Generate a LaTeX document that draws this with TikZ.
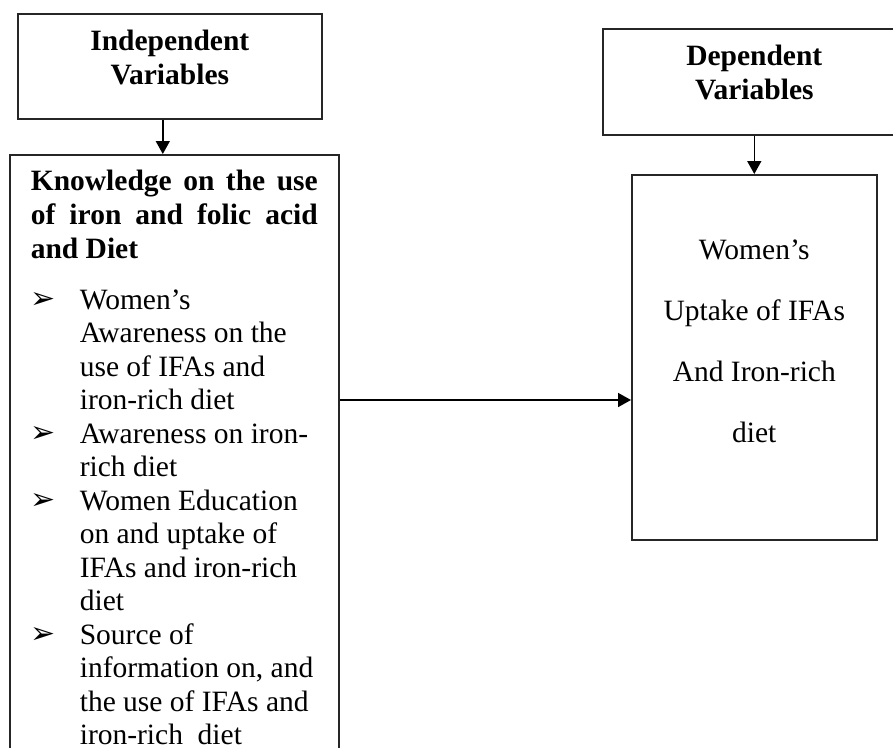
\documentclass[tikz,border=0pt]{standalone}
\usepackage{fontspec}
\setmainfont{Liberation Serif}
\newfontfamily\symfont{DejaVu Sans}
\usetikzlibrary{arrows.meta}

\tikzset{
  varbox/.style={draw=black!85, line width=1.6pt, inner sep=0pt, anchor=north west},
  arr/.style={-{Triangle[length=13pt,width=14pt]}, line width=1.6pt}
}
\newcommand{\bodyfont}{\fontsize{29.5}{34}\selectfont}
\newcommand{\itm}{\makebox[49pt][l]{\hspace{0pt}\raisebox{1pt}{\symfont\fontsize{30}{30}\selectfont ➢}}}
\newcommand{\ind}{\hspace*{49pt}}

\begin{document}
\begin{tikzpicture}[x=1pt, y=-1pt]
\useasboundingbox (0,0) rectangle (893,747);
\clip (0,0) rectangle (893,747);

% Independent side
\node[varbox] (indep) at (17,13) {\parbox[c][105pt][t]{304pt}{\centering\bfseries\bodyfont
\rule{0pt}{37pt}Independent\\Variables}};

\node[varbox, inner xsep=21pt] (know) at (9,154) {\parbox[c][620pt][t]{287pt}{\bodyfont\bfseries
\rule{0pt}{36pt}\makebox[287pt][s]{Knowledge on the use}\\
\makebox[287pt][s]{of iron and folic acid}\\
and Diet\par
\vspace{17pt}\normalfont\fontsize{29.5}{33.5}\selectfont
\itm Women’s\\
\ind Awareness on the\\
\ind use of IFAs and\\
\ind iron-rich diet\\
\itm Awareness on iron-\\
\ind rich diet\\
\itm Women Education\\
\ind on and uptake of\\
\ind IFAs and iron-rich\\
\ind diet\\
\itm Source of\\
\ind information on, and\\
\ind the use of IFAs and\\
\ind iron-rich\ \ diet}};

% Dependent side
\node[varbox] (dep) at (602,28) {\parbox[c][106pt][t]{303pt}{\centering\bfseries\bodyfont
\rule{0pt}{37pt}Dependent\\Variables}};

\node[varbox] (res) at (631,174) {\parbox[c][365pt][t]{245pt}{\centering\fontsize{29.5}{61}\selectfont
\rule{0pt}{85pt}Women’s\\Uptake of IFAs\\And Iron-rich\\diet}};

% Arrows
\coordinate (ia) at ([xshift=-7pt]indep.south);
\coordinate (lvl) at (0,400);
\draw[arr] (ia) -- (ia |- know.north);
\draw[arr] (dep.south -| res.north) -- (res.north);
\draw[arr] (know.east |- lvl) -- (res.west |- lvl);

\end{tikzpicture}
\end{document}
